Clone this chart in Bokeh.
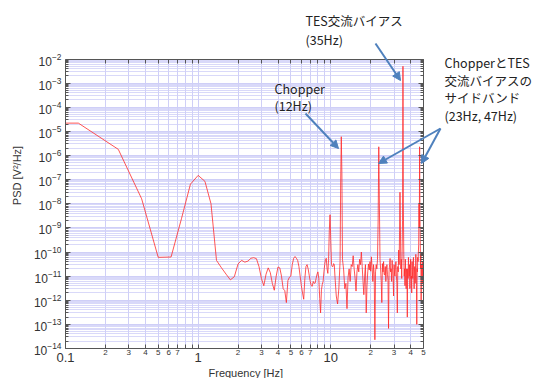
from bokeh.plotting import figure
from bokeh.models import LogAxis, FixedTicker, Label, Arrow, NormalHead, CustomJSTickFormatter, Title
from bokeh.embed import file_html
from bokeh.resources import INLINE

# ---------------- data ----------------
freq = [0.1, 0.125, 0.25, 0.375, 0.5, 0.625, 0.75, 0.875, 1.0, 1.125, 1.25, 1.375, 1.5, 1.625,
        1.75, 1.875, 2.0, 2.125, 2.25, 2.375, 2.5, 2.625, 2.75, 2.875, 3.0, 3.125, 3.25, 3.375,
        3.5, 3.625, 3.75, 3.875, 4.0, 4.125, 4.25, 4.375, 4.5, 4.625, 4.75, 4.875, 5.0, 5.125,
        5.25, 5.375, 5.5, 5.625, 5.75, 5.875, 6.0, 6.125, 6.25, 6.375, 6.5, 6.625, 6.75, 6.875,
        7.0, 7.125, 7.25, 7.375, 7.5, 7.625, 7.75, 7.875, 8.0, 8.125, 8.25, 8.375, 8.5, 8.625,
        8.75, 8.875, 9.0, 9.125, 9.25, 9.375, 9.5, 9.625, 9.75, 9.875, 10.0, 10.125, 10.25,
        10.375, 10.5, 10.625, 10.75, 11.0, 11.25, 11.5, 11.75, 11.875, 12.0, 12.125, 12.25, 12.5,
        12.75, 13.0, 13.25, 13.5, 13.75, 14.0, 14.25, 14.5, 14.75, 15.0, 15.25, 15.5, 15.75,
        16.0, 16.25, 16.5, 16.75, 17.0, 17.25, 17.5, 17.75, 18.0, 18.25, 18.5, 18.75, 19.0,
        19.25, 19.5, 19.75, 20.0, 20.25, 20.5, 20.75, 21.0, 21.25, 21.5, 21.75, 22.0, 22.25,
        22.5, 22.75, 23.0, 23.25, 23.5, 23.75, 24.0, 24.25, 24.5, 24.75, 25.0, 25.25, 25.5,
        25.75, 26.0, 26.25, 26.5, 26.75, 27.0, 27.25, 27.5, 27.75, 28.0, 28.25, 28.5, 28.75,
        29.0, 29.25, 29.5, 29.75, 30.0, 30.25, 30.5, 30.75, 31.0, 31.25, 31.5, 31.75, 32.0,
        32.25, 32.5, 32.75, 33.0, 33.25, 33.5, 33.75, 34.0, 34.25, 34.5, 34.75, 35.0, 35.25,
        35.5, 35.75, 36.0, 36.25, 36.5, 36.75, 37.0, 37.25, 37.5, 37.75, 38.0, 38.25, 38.5,
        38.75, 39.0, 39.25, 39.5, 39.75, 40.0, 40.25, 40.5, 40.75, 41.0, 41.25, 41.5, 41.75,
        42.0, 42.25, 42.5, 42.75, 43.0, 43.25, 43.5, 43.75, 44.0, 44.25, 44.5, 44.75, 45.0,
        45.25, 45.5, 45.75, 46.0, 46.25, 46.5, 46.75, 47.0, 47.25, 47.5, 47.75, 48.0, 48.25,
        48.5, 48.75, 49.0, 49.25, 49.5, 49.75, 50.0]
psd = [2.2e-5, 2.2e-5, 1.8e-6, 1.6e-8, 6e-11, 6.2e-11, 2.5e-9, 6.5e-8, 1.5e-7, 8.5e-8, 1e-8,
       4.5e-11, 2.2e-11, 1.2e-11, 7e-12, 9.5e-12, 3.2e-11, 4.5e-11, 3.8e-11, 4.2e-11, 5.5e-11,
       5.8e-11, 5.3e-11, 2.5e-11, 8e-12, 4e-12, 1.2e-11, 2.2e-11, 1.4e-11, 5e-12, 2.6e-12,
       1e-11, 2.4e-11, 2.2e-11, 1e-11, 3e-12, 2.5e-12, 8e-13, 6.5e-12, 9e-12, 1e-11, 3e-11,
       5.5e-11, 6.5e-11, 5.5e-11, 4.5e-11, 2.5e-11, 1e-11, 4e-12, 2e-12, 1.1e-12, 8e-12,
       2.5e-11, 3e-11, 2e-11, 1.1e-11, 6e-12, 4e-12, 3.8e-12, 6e-12, 5e-12, 5.2e-12, 8e-12,
       1.2e-11, 1.5e-11, 8e-12, 1.2e-12, 3e-13, 2.7e-12, 4.5e-12, 6e-12, 1.5e-11, 3e-11, 5e-11,
       5.5e-11, 2e-11, 1.3e-11, 5e-11, 8e-10, 3.5e-9, 3e-10, 3e-11, 2.5e-11, 2.5e-11, 3.3e-11,
       3e-11, 1e-11, 1.5e-12, 7e-13, 3e-12, 4e-11, 8e-8, 6e-6, 2e-7, 5e-11, 1.8e-11, 3e-12,
       5e-12, 4.5e-13, 9e-12, 2e-11, 6e-12, 3e-11, 2.5e-11, 7e-11, 2e-11, 8e-12, 2.4e-12,
       1.5e-11, 3e-11, 1.5e-11, 5e-11, 3e-11, 1e-10, 2.5e-11, 6e-12, 1.7e-12, 1e-11, 3e-11,
       3e-13, 4e-12, 1.5e-11, 3.2e-11, 1.8e-11, 4e-11, 1.6e-11, 6.3e-11, 2e-11, 6e-12, 3e-11,
       1.2e-11, 2.3e-14, 1.5e-11, 3e-11, 2e-11, 5e-11, 2e-9, 2.3e-6, 1e-8, 5e-11, 2e-11, 6e-12,
       8e-13, 3.3e-11, 1.5e-11, 4e-11, 1.2e-11, 1.1e-11, 2.5e-11, 6e-12, 2e-11, 3e-11,
       1.2e-11, 7e-12, 6.8e-14, 1.5e-11, 3e-11, 5.4e-11, 1.5e-11, 2e-11, 6e-12, 4.5e-11,
       2e-11, 8e-12, 1.5e-12, 3e-11, 1.2e-11, 1e-11, 3e-11, 4e-11, 1e-11, 5e-12, 3e-13,
       2.5e-11, 1.5e-11, 1.2e-10, 3e-11, 8e-10, 3e-8, 1e-9, 2e-11, 5e-11, 8e-12, 1e-10, 2e-9,
       5e-3, 1e-8, 8e-11, 1e-11, 2e-11, 4e-12, 5e-11, 1.2e-11, 3e-12, 2e-11, 1.5e-11, 2e-13,
       2e-11, 8e-12, 6e-11, 2e-11, 1e-11, 3e-11, 3e-12, 1.5e-11, 5e-11, 8e-12, 1e-11, 2e-12,
       4e-11, 1.5e-11, 8e-12, 4e-11, 6e-11, 1e-11, 3e-12, 2e-11, 2.5e-11, 5e-12, 1e-11, 8e-11,
       3e-11, 4e-12, 1e-13, 2e-11, 1.5e-11, 6e-11, 4e-11, 1e-10, 2e-10, 1e-8, 1e-9, 2.3e-6,
       5e-9, 3e-10, 2e-11, 8e-11, 1e-12, 2e-11, 3e-11, 1e-11, 5e-12, 4e-11, 2e-11, 6e-12, 2e-12]

# tick positions and labels
x_decade_ticks = [0.1, 1, 10]
x_decade_labels = ["0.1", "1", "10"]
x_sub_ticks = [0.2, 0.3, 0.4, 0.5, 0.6, 0.7, 0.8, 0.9,
               2, 3, 4, 5, 6, 7, 8, 9,
               20, 30, 40, 50]
x_sub_labels = ["2", "3", "4", "5", "6", "7", "", "",
                "2", "3", "4", "5", "6", "7", "", "",
                "2", "3", "4", "5"]
y_decade_ticks = [1e-14, 1e-13, 1e-12, 1e-11, 1e-10, 1e-9, 1e-8, 1e-7, 1e-6, 1e-5, 1e-4, 1e-3, 1e-2]
y_sub_ticks = [k * d for d in y_decade_ticks[:-1] for k in range(2, 10)]
X_MIN, X_MAX = 0.1, 50
Y_MIN, Y_MAX = 1e-14, 1e-2
x_title = "Frequency [Hz]"
y_title = "PSD [V²/Hz]"

# annotation texts (text, left px, centre px) and arrows (px start -> px end)
notes = [
    ("TES交流バイアス", 305, 20),
    ("(35Hz)", 305, 39),
    ("Chopper", 274, 88),
    ("(12Hz)", 274, 105),
    ("ChopperとTES", 444, 62),
    ("交流バイアスの", 444, 80),
    ("サイドバンド", 444, 97),
    ("(23Hz, 47Hz)", 444, 115),
]
arrows_px = [
    (375, 43, 400, 80),
    (305, 113, 338, 148),
    (440, 128, 378, 163),
    (440, 128, 421, 163),
]

# ---------------- layout geometry ----------------
LEFT = 65          # px of x = 0.1
X50 = 423          # px of x = 50
TOP = 2            # frame top
Y_TOP = 58.5       # px of y = 1e-2
FRAME_W = 470
FRAME_H = 346
X_DEC = (X50 - LEFT) / 2.69897
Y_DEC = (TOP + FRAME_H - Y_TOP) / 12.0
x_end = 10 ** (-1 + FRAME_W / X_DEC)
y_end = 10 ** (-2 + (Y_TOP - TOP) / Y_DEC)


def to_data(px, py):
    return 10 ** (-1 + (px - LEFT) / X_DEC), 10 ** (-2 - (py - Y_TOP) / Y_DEC)


FONT = "Liberation Sans"
TXT = "#333333"
GRID = "#cfcff7"
AX = "#555555"
BLUE = "#4f81bd"

p = figure(frame_width=FRAME_W, frame_height=FRAME_H, x_axis_type="log", y_axis_type="log",
           x_range=(X_MIN, x_end), y_range=(Y_MIN, y_end),
           output_backend="svg", toolbar_location=None,
           min_border_left=LEFT, min_border_right=0, min_border_top=TOP, min_border_bottom=0)
p.background_fill_color = "white"
p.border_fill_color = "white"
p.outline_line_color = None

all_x_ticks = sorted(x_decade_ticks + x_sub_ticks)
sub_overrides = {t: l for t, l in zip(x_sub_ticks, x_sub_labels)}
for t in x_decade_ticks:
    sub_overrides[t] = ""

# bottom axis 1: small sub-decade labels
ax1 = p.xaxis[0]
ax1.ticker = FixedTicker(ticks=all_x_ticks)
ax1.bounds = (X_MIN, X_MAX)
ax1.major_label_overrides = sub_overrides
ax1.major_label_text_font = FONT
ax1.major_label_text_font_size = "8px"
ax1.major_label_text_color = TXT
ax1.major_label_standoff = 1
ax1.major_tick_in = 4
ax1.major_tick_out = 0
ax1.minor_tick_in = 0
ax1.minor_tick_out = 0
ax1.axis_line_color = AX
ax1.major_tick_line_color = AX

# bottom axis 2: decade labels
ax2 = LogAxis(ticker=FixedTicker(ticks=x_decade_ticks), bounds=(X_MIN, X_MAX),
              major_label_overrides={t: l for t, l in zip(x_decade_ticks, x_decade_labels)},
              axis_line_color=None, major_tick_line_color=None, minor_tick_line_color=None,
              major_tick_in=0, major_tick_out=0,
              major_label_text_font=FONT, major_label_text_font_size="13px",
              major_label_text_color=TXT, major_label_standoff=-5)
p.add_layout(ax2, "below")

# x axis title, centred under the plot box (not under the wider frame)
p.add_layout(Title(text=x_title, align="left", offset=143, standoff=0,
                   text_font=FONT, text_font_size="11px", text_font_style="normal",
                   text_color=TXT), "below")

# top edge: ticks only, fixed at y = 1e-2
ax_top = LogAxis(ticker=FixedTicker(ticks=all_x_ticks), bounds=(X_MIN, X_MAX),
                 fixed_location=Y_MAX,
                 formatter=CustomJSTickFormatter(code="return ''"),
                 major_tick_in=4, major_tick_out=0, minor_tick_in=0, minor_tick_out=0,
                 axis_line_color=AX, major_tick_line_color=AX,
                 major_label_text_font_size="1px", major_label_standoff=0)
p.add_layout(ax_top, "above")

# left axis
yticker = FixedTicker(ticks=y_decade_ticks, minor_ticks=y_sub_ticks)
ay = p.yaxis[0]
ay.ticker = yticker
ay.bounds = (Y_MIN, Y_MAX)
ay.major_label_text_font = FONT
ay.major_label_text_font_size = "12px"
ay.major_label_text_color = TXT
ay.major_label_standoff = 4
ay.major_tick_in = 5
ay.major_tick_out = 0
ay.minor_tick_in = 3
ay.minor_tick_out = 0
ay.axis_line_color = AX
ay.major_tick_line_color = AX
ay.minor_tick_line_color = AX
ay.axis_label = y_title
ay.axis_label_text_font = FONT
ay.axis_label_text_font_size = "11px"
ay.axis_label_text_font_style = "normal"
ay.axis_label_text_color = TXT
ay.axis_label_standoff = 8

# right edge: ticks only, fixed at x = 50
ay_r = LogAxis(ticker=yticker, bounds=(Y_MIN, Y_MAX), fixed_location=X_MAX,
               formatter=CustomJSTickFormatter(code="return ''"),
               major_tick_in=5, major_tick_out=0, minor_tick_in=3, minor_tick_out=0,
               axis_line_color=AX, major_tick_line_color=AX, minor_tick_line_color=AX,
               major_label_text_font_size="1px", major_label_standoff=0)
p.add_layout(ay_r, "right")

# grids, limited to the plot box
p.xgrid.ticker = FixedTicker(ticks=all_x_ticks)
p.xgrid.bounds = (X_MIN, X_MAX)
p.xgrid.cross_bounds = (Y_MIN, Y_MAX)
p.xgrid.grid_line_color = GRID
p.ygrid.ticker = yticker
p.ygrid.bounds = (Y_MIN, Y_MAX)
p.ygrid.cross_bounds = (X_MIN, X_MAX)
p.ygrid.grid_line_color = GRID
p.ygrid.minor_grid_line_color = GRID
p.ygrid.minor_grid_line_alpha = 0.8

# data line
p.line(freq, psd, line_color="#ff2a2a", line_width=1, line_alpha=0.8)

# annotations
for txt, px, py in notes:
    x, y = to_data(px, py)
    p.add_layout(Label(x=x, y=y, text=txt, text_font="Noto Sans CJK JP",
                       text_font_size="12.5px", text_color="#222222",
                       text_baseline="middle", text_align="left"))
for px0, py0, px1, py1 in arrows_px:
    x0, y0 = to_data(px0, py0)
    x1, y1 = to_data(px1, py1)
    p.add_layout(Arrow(x_start=x0, y_start=y0, x_end=x1, y_end=y1,
                       line_color=BLUE, line_width=2,
                       end=NormalHead(size=8, line_color=BLUE, fill_color=BLUE, line_width=1)))

open("out.html", "w").write(file_html(p, INLINE))
